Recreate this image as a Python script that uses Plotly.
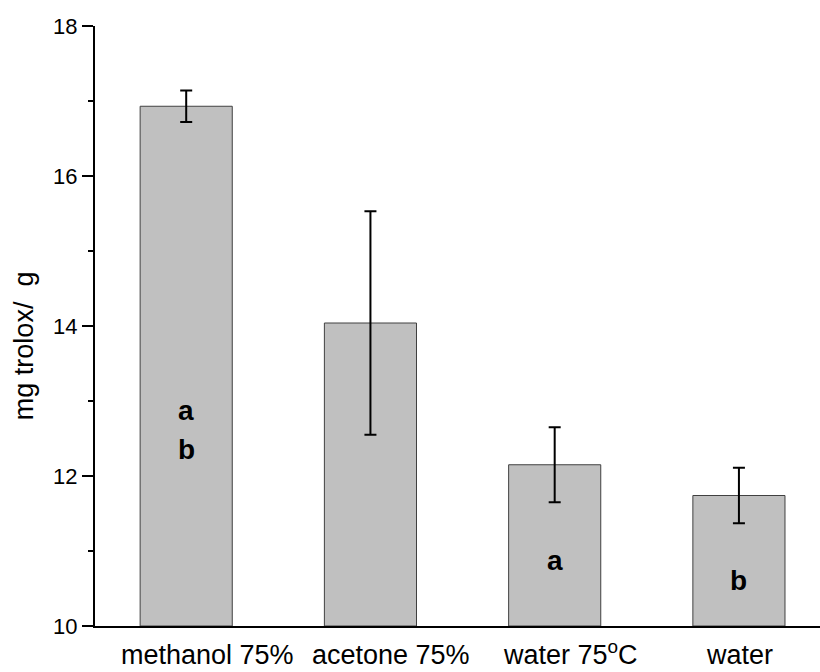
import plotly.graph_objects as go

NB = "\u00a0"
categories = ["methanol 75%", "acetone 75%", "water 75<sup>o</sup>C", "water"]
values = [16.93, 14.04, 12.15, 11.74]
errors = [0.21, 1.49, 0.50, 0.37]
# horizontal offset of each category label from its bar centre (px), as in the original
label_shift = [21, 21, 16, 1]

# letter annotations: (category index, y value, text)
letter_idx = [0, 0, 2, 3]
letter_y = [12.88, 12.36, 10.88, 10.61]
letter_txt = ["a", "b", "a", "b"]

y_ticks = [10, 12, 14, 16, 18]
y_title = "mg trolox/  g"

FONT = "Arial, Liberation Sans, sans-serif"

fig = go.Figure()
fig.add_trace(go.Bar(
    x=list(range(len(categories))),
    y=[v - 10 for v in values],
    base=10,
    width=0.5,
    marker=dict(color="#c0c0c0", line=dict(color="#404040", width=1)),
    error_y=dict(type="data", array=errors, visible=True, color="black",
                 thickness=2, width=6),
    showlegend=False,
))

for i, yv, t in zip(letter_idx, letter_y, letter_txt):
    fig.add_annotation(x=i, y=yv, text="<b>" + t + "</b>", showarrow=False,
                       font=dict(family=FONT, size=28, color="black"))

for i, (c, s) in enumerate(zip(categories, label_shift)):
    fig.add_annotation(x=i, xref="x", y=0, yref="paper", yanchor="bottom", xanchor="center",
                       yshift=-46, xshift=s, text=c, showarrow=False,
                       font=dict(family=FONT, size=27, color="black"))

fig.add_annotation(xref="paper", yref="paper", x=-0.098, y=0.468,
                   xanchor="center", yanchor="middle",
                   text=y_title.replace(" ", NB), textangle=-90, showarrow=False,
                   font=dict(family=FONT, size=27, color="black"))

fig.update_layout(
    width=820, height=672,
    margin=dict(l=95, r=0, t=26, b=46, autoexpand=False),
    paper_bgcolor="white", plot_bgcolor="white",
    font=dict(family=FONT, color="black", size=22),
    xaxis=dict(
        range=[-0.495, 3.44],
        showticklabels=False,
        automargin=False,
        showline=True, linecolor="black", linewidth=2,
        ticks="", showgrid=False, zeroline=False,
    ),
    yaxis=dict(
        range=[10, 18],
        tickvals=y_ticks,
        tickfont=dict(family=FONT, size=22, color="black"),
        automargin=False,
        showline=True, linecolor="black", linewidth=2,
        ticks="outside", ticklen=11, tickwidth=2, tickcolor="black",
        minor=dict(ticks="outside", ticklen=5, tickwidth=2, tickcolor="black", dtick=1, showgrid=False),
        showgrid=False, zeroline=False,
    ),
)

fig.write_html("out.html")
